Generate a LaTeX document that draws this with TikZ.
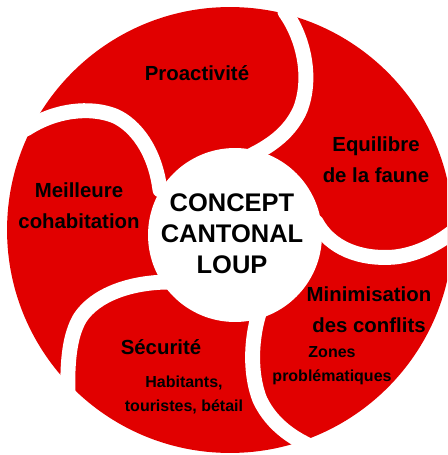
\documentclass[tikz,border=0pt]{standalone}
\usepackage{fontspec}
\setmainfont{Liberation Sans}
\definecolor{rouge}{RGB}{225,0,0}
\tikzstyle{gap} = [white, line width=8.5pt, line cap=round]
\tikzstyle{blobtitle} = [font=\bfseries\fontsize{11.6}{17.5}\selectfont, align=center]
\tikzstyle{blobnote} = [font=\bfseries\fontsize{9.1}{13.6}\selectfont, align=center]
\tikzstyle{coretext} = [font=\bfseries\fontsize{14.5}{17.6}\selectfont, align=center]

\begin{document}
\begin{tikzpicture}[x=0.02cm, y=-0.02cm, node distance=1cm]

% Disc and gaps
\clip (0,0) rectangle (447,455);
\fill[rouge] (230,230) circle (4.46cm);
\draw[gap] (285,12) .. controls (305,40) and (312,80) .. (300,110) .. controls (290,132) and (272,145) .. (252,155);
\draw[gap] (316,222) .. controls (330,248) and (360,260) .. (395,257) .. controls (420,254) and (440,242) .. (455,230);
\draw[gap] (262,305) .. controls (252,330) and (248,370) .. (260,400) .. controls (272,425) and (295,442) .. (328,453);
\draw[gap] (170,282) .. controls (130,282) and (95,295) .. (80,318) .. controls (70,335) and (67,360) .. (68,394);
\draw[gap] (160,190) .. controls (155,150) and (135,125) .. (115,116) .. controls (90,106) and (55,110) .. (26,129);
\fill[white] (235,235) circle (1.74cm);

% Nodes
\node (core) [coretext] at (232,234) {CONCEPT\\CANTONAL\\LOUP};
\node (proact) [blobtitle] at (197,73) {Proactivité};
\node (equil) [blobtitle] at (376,160) {Equilibre\\de la faune};
\node (minim) [blobtitle] at (369,310) {Minimisation\\des conflits};
\node (zones) [blobnote, below of=minim, xshift=-0.74cm, yshift=-0.12cm] {Zones\\problématiques};
\node (secur) [blobtitle] at (161,347) {Sécurité};
\node (habit) [blobnote, below of=secur, xshift=0.46cm, yshift=0.04cm] {Habitants,\\touristes, bétail};
\node (meil) [blobtitle] at (79,206) {Meilleure\\cohabitation};

\end{tikzpicture}
\end{document}
